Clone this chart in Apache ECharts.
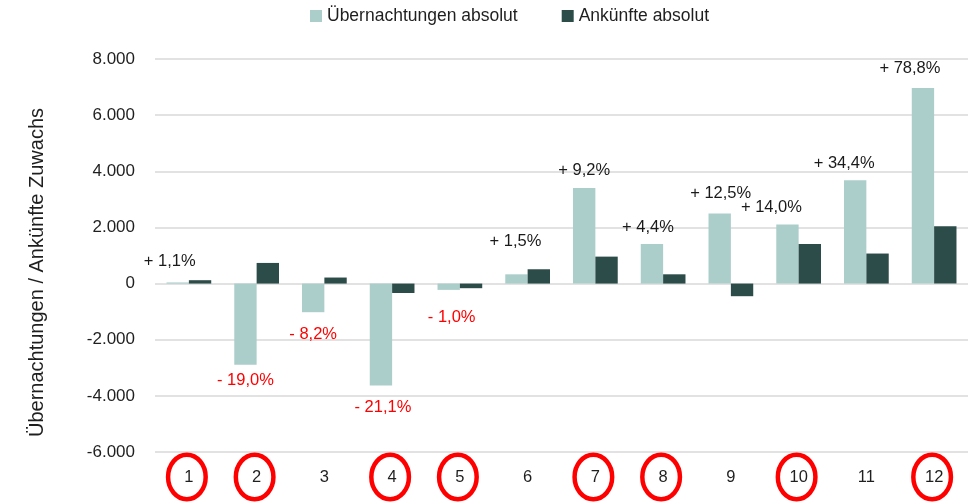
<!DOCTYPE html>
<html>
<head>
<meta charset="utf-8">
<script src="https://cdn.jsdelivr.net/npm/echarts@6/dist/echarts.min.js"></script>
<style>html,body{margin:0;padding:0;background:#fff}#c{width:971px;height:504px}</style>
</head>
<body>
<div id="c"></div>
<script>
// ---- data ----
const categories = ['1','2','3','4','5','6','7','8','9','10','11','12'];
const overnights = [40, -2890, -1020, -3635, -225, 330, 3405, 1410, 2495, 2100, 3680, 6970];
const arrivals   = [120, 735, 215, -335, -165, 510, 960, 330, -450, 1410, 1070, 2040];
const pctChange  = [1.1, -19.0, -8.2, -21.1, -1.0, 1.5, 9.2, 4.4, 12.5, 14.0, 34.4, 78.8];
const circled    = [true, true, false, true, true, false, true, true, false, true, false, true];
const seriesNames = ['Übernachtungen absolut', 'Ankünfte absolut'];
const yAxisTitle = 'Übernachtungen / Ankünfte Zuwachs';

// ---- styling (label nudges, not data) ----
const labelNudge = [[-8,-3],[0,-2],[0,5],[2,4],[3,10],[-1,-15],[0,0],[-4,1],[1,-3],[-16,0],[-11,1],[-13,-2]];
const FONT = 'Liberation Sans';
const TXT = '#1f1f1f';

function fmtThousands(v) {
  const neg = v < 0; let s = String(Math.abs(Math.round(v)));
  s = s.replace(/\B(?=(\d{3})+(?!\d))/g, '.');
  return (neg ? '-' : '') + s;
}
function fmtPct(p) {
  return (p < 0 ? '- ' : '+ ') + Math.abs(p).toFixed(1).replace('.', ',') + '%';
}

const lightData = overnights.map((v, i) => ({
  value: v,
  label: {
    show: true,
    position: v >= 0 ? 'top' : 'bottom',
    distance: 9,
    offset: labelNudge[i],
    formatter: fmtPct(pctChange[i]),
    color: pctChange[i] < 0 ? '#ff0000' : '#1a1a1a',
    fontFamily: FONT,
    fontSize: 16.5
  }
}));

const circleData = categories.map((c, i) => [i, -6000, circled[i] ? 1 : 0]);

const chart = echarts.init(document.getElementById('c'));
chart.setOption({
  animation: false,
  backgroundColor: '#ffffff',
  textStyle: { fontFamily: FONT, color: TXT },
  legend: {
    data: seriesNames,
    left: 305, top: 2,
    itemWidth: 12, itemHeight: 12, itemGap: 44,
    icon: 'rect',
    textStyle: { fontFamily: FONT, fontSize: 17.5, color: TXT }
  },
  grid: { left: 155, right: 3, top: 59, bottom: 52, containLabel: false },
  xAxis: {
    type: 'category',
    data: categories,
    axisLine: { show: false },
    axisTick: { show: false },
    axisLabel: { fontFamily: FONT, fontSize: 16.5, color: TXT, margin: 17 }
  },
  yAxis: {
    type: 'value',
    min: -6000, max: 8000, interval: 2000,
    name: yAxisTitle,
    nameLocation: 'middle',
    nameGap: 108,
    nameRotate: 90,
    nameTextStyle: { fontFamily: FONT, fontSize: 20, color: TXT, padding: [0, 34, 0, 0] },
    axisLine: { show: false },
    axisTick: { show: false },
    axisLabel: { fontFamily: FONT, fontSize: 17, color: TXT, margin: 20, formatter: fmtThousands },
    splitLine: { lineStyle: { color: '#d9d9d9', width: 1.6 } }
  },
  series: [
    {
      name: seriesNames[0], type: 'bar', data: lightData,
      barGap: '0%', barCategoryGap: '34%',
      itemStyle: { color: '#abcecb' }
    },
    {
      name: seriesNames[1], type: 'bar', data: arrivals,
      barGap: '0%', barCategoryGap: '34%',
      itemStyle: { color: '#2c4c49' }
    },
    {
      name: 'circles', type: 'custom', data: circleData, silent: true, clip: false,
      encode: { x: 0, y: 1 },
      renderItem: function (params, api) {
        if (!api.value(2)) return null;
        const p = api.coord([api.value(0), api.value(1)]);
        const cx = p[0] - 2, cy = p[1] + 25, rx = 18.8, ry = 22.2;
        const d = 'M' + (cx - rx) + ' ' + cy +
          ' A' + rx + ' ' + ry + ' 0 1 0 ' + (cx + rx) + ' ' + cy +
          ' A' + rx + ' ' + ry + ' 0 1 0 ' + (cx - rx) + ' ' + cy + ' Z';
        return { type: 'path', shape: { pathData: d }, style: { fill: 'none', stroke: '#ff0000', lineWidth: 4.5 } };
      }
    }
  ]
});
</script>
</body>
</html>
